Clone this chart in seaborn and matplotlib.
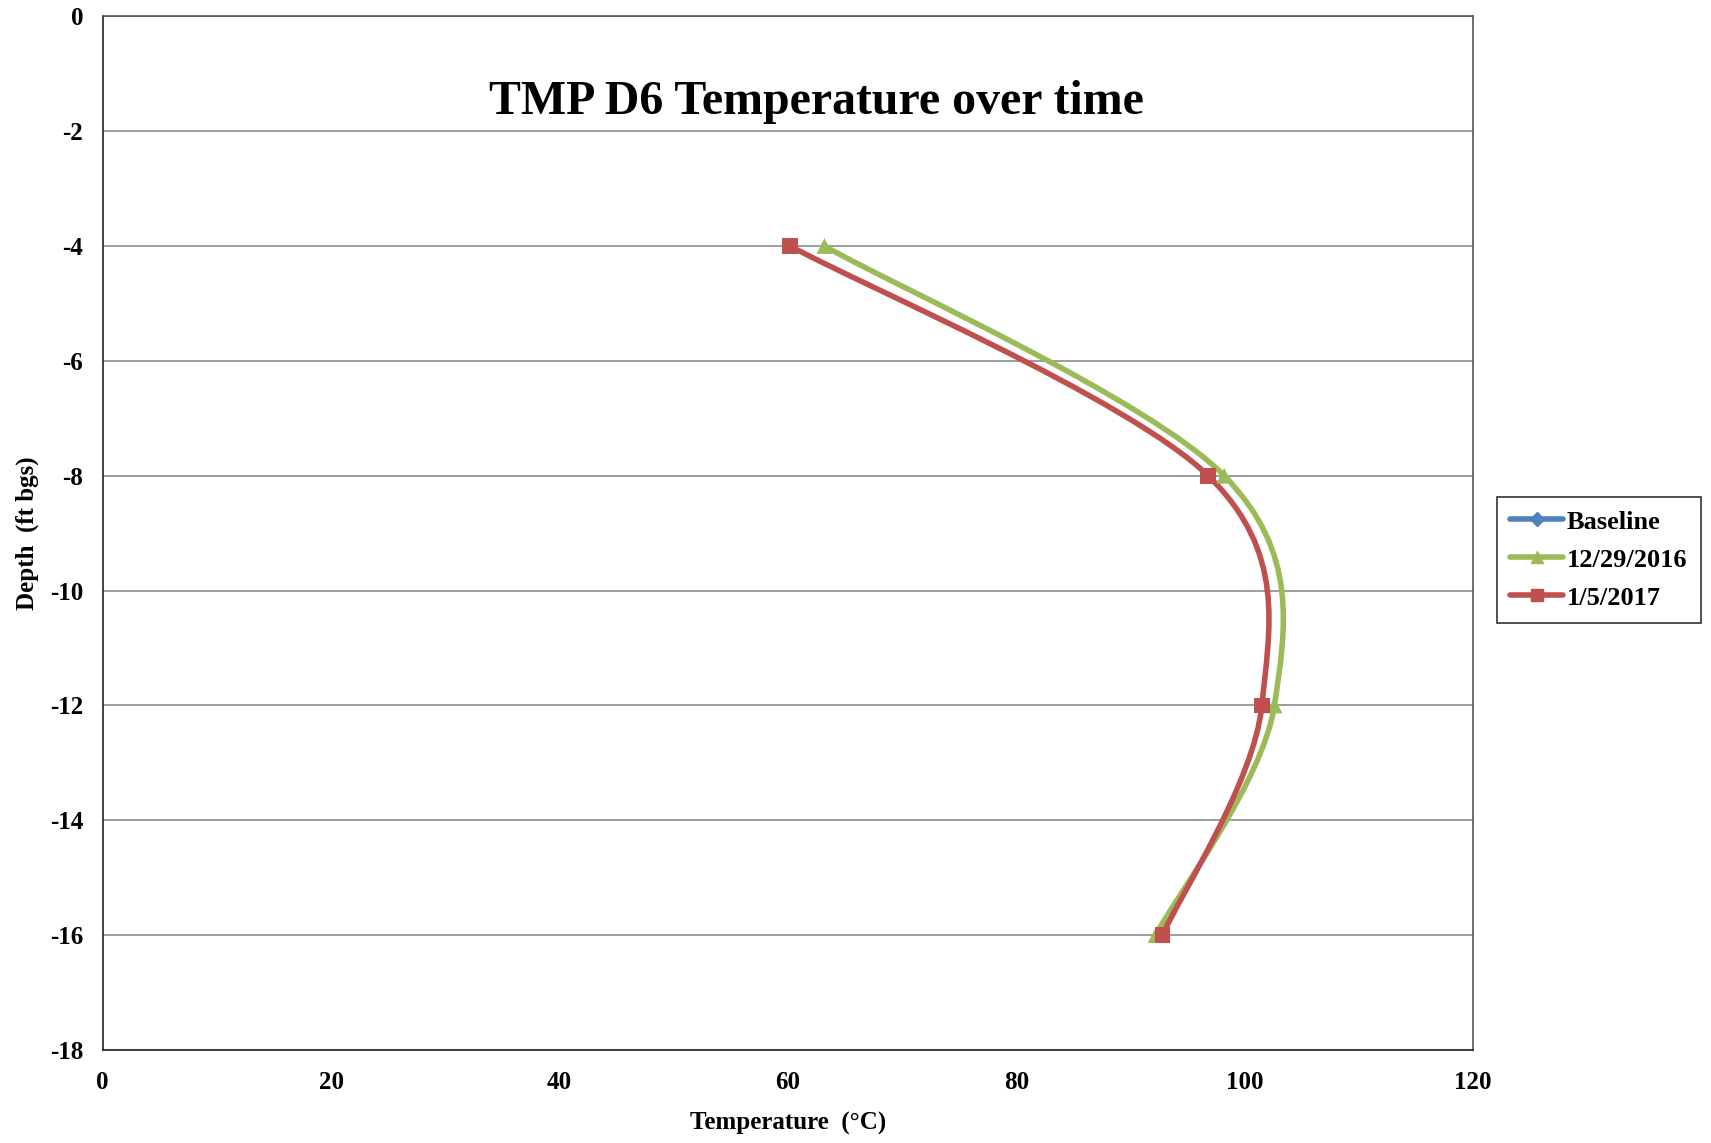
import pandas as pd
import matplotlib.pyplot as plt
import seaborn as sns
from matplotlib.path import Path
from matplotlib.patches import PathPatch
from matplotlib.lines import Line2D

# Data
depth = [-4, -8, -12, -16]
temp_1229 = [63.2, 98.2, 102.6, 92.2]
temp_0105 = [60.2, 96.8, 101.5, 92.8]
series_names = ['Baseline', '12/29/2016', '1/5/2017']
colors = {'Baseline': '#4F81BD', '12/29/2016': '#9BBB59', '1/5/2017': '#C0504D'}
markers = {'Baseline': 'D', '12/29/2016': '^', '1/5/2017': 's'}

x_ticks = [0, 20, 40, 60, 80, 100, 120]
y_ticks = [0, -2, -4, -6, -8, -10, -12, -14, -16, -18]

df = pd.concat([
    pd.DataFrame({'temp': temp_1229, 'depth': depth, 'series': '12/29/2016'}),
    pd.DataFrame({'temp': temp_0105, 'depth': depth, 'series': '1/5/2017'}),
])

sns.set_style('white')
plt.rcParams['font.family'] = ['Liberation Serif', 'DejaVu Serif']
plt.rcParams['font.weight'] = 'bold'
plt.rcParams['axes.unicode_minus'] = False
plt.rcParams['text.color'] = 'black'
plt.rcParams['xtick.color'] = 'black'
plt.rcParams['ytick.color'] = 'black'
plt.rcParams['axes.labelcolor'] = 'black'

fig = plt.figure(figsize=(17.11, 11.43), dpi=100)
ax = fig.add_axes([0.060, 0.0814, 0.801, 0.9043])


def smooth_path(xs, ys):
    # Excel-style smoothed line: cubic Bezier through the points
    pts = list(zip(xs, ys))
    verts = [pts[0]]
    codes = [Path.MOVETO]
    n = len(pts)
    for i in range(n - 1):
        p0 = pts[max(i - 1, 0)]
        p1 = pts[i]
        p2 = pts[i + 1]
        p3 = pts[min(i + 2, n - 1)]
        c1 = (p1[0] + (p2[0] - p0[0]) / 6, p1[1] + (p2[1] - p0[1]) / 6)
        c2 = (p2[0] - (p3[0] - p1[0]) / 6, p2[1] - (p3[1] - p1[1]) / 6)
        verts += [c1, c2, p2]
        codes += [Path.CURVE4] * 3
    return Path(verts, codes)


for name, temps in [('12/29/2016', temp_1229), ('1/5/2017', temp_0105)]:
    ax.add_patch(PathPatch(smooth_path(temps, depth), facecolor='none',
                           edgecolor=colors[name], lw=4, zorder=3,
                           capstyle='round', joinstyle='round'))

sns.scatterplot(data=df, x='temp', y='depth', hue='series', style='series',
                hue_order=series_names[1:], style_order=series_names[1:],
                palette=colors, markers=markers, s=130, linewidth=0,
                legend=False, ax=ax, zorder=4)

ax.set_xlim(0, 120)
ax.set_ylim(-18, 0)
ax.set_xticks(x_ticks)
ax.set_yticks(y_ticks)
ax.tick_params(labelsize=18, length=0)
ax.tick_params(axis='x', pad=15)
ax.tick_params(axis='y', pad=14)
for lbl in ax.get_xticklabels() + ax.get_yticklabels():
    lbl.set_fontweight('bold')
ax.yaxis.grid(True, color='#8c8c8c', lw=1.2)
ax.xaxis.grid(False)
for sp in ax.spines.values():
    sp.set_color('#555555')
    sp.set_linewidth(1.2)
ax.spines['left'].set_color('#222222')
ax.spines['bottom'].set_color('#222222')

ax.set_xlabel('Temperature  (\u00b0C)', fontsize=18, fontweight='bold', labelpad=13)
ax.set_ylabel('Depth  (ft bgs)', fontsize=18, fontweight='bold', labelpad=8)
ax.text(62.5, -1.5, 'TMP D6 Temperature over time', fontsize=34.5,
        fontweight='bold', ha='center', va='center')

handles = [Line2D([0], [0], color=colors[n], marker=markers[n], lw=4,
                  markersize=9 if n != 'Baseline' else 7, label=n)
           for n in series_names]
leg = fig.legend(handles=handles, loc='upper left',
                 bbox_to_anchor=(1497 / 1711, 1 - 497 / 1143),
                 borderaxespad=0,
                 frameon=True, fancybox=False, edgecolor='black',
                 prop={'size': 19, 'weight': 'bold'},
                 handlelength=2.0, handletextpad=0.15, borderpad=0.5,
                 labelspacing=0.55)
leg.get_frame().set_linewidth(1.2)

fig.savefig('out.png', dpi=100)
